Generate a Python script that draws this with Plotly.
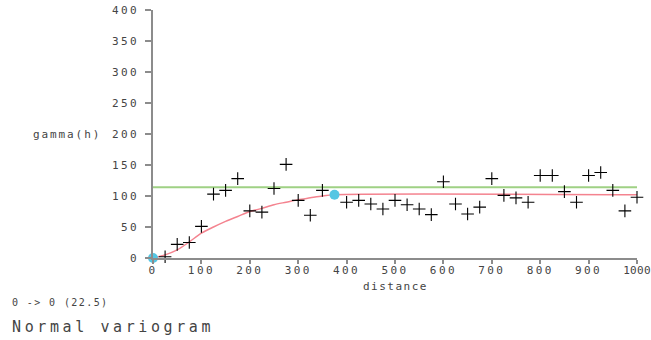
import plotly.graph_objects as go

# experimental variogram (lag distance, gamma)
lag_distance = [25, 50, 75, 100, 125, 150, 175, 200, 225, 250, 275, 300, 325, 350,
                400, 425, 450, 475, 500, 525, 550, 575, 600, 625, 650, 675, 700, 725,
                750, 775, 800, 825, 850, 875, 900, 925, 950, 975, 1000]
gamma_values = [2, 22, 25, 51, 103, 109, 128, 76, 74, 112, 151, 93, 69, 109,
                90, 93, 87, 79, 93, 86, 79, 70, 123, 87, 71, 82, 128, 101,
                97, 90, 133, 133, 107, 90, 133, 138, 109, 76, 98]

# fitted model curve
model_distance = [0, 25, 50, 75, 100, 125, 150, 175, 200, 225, 250, 275, 300, 325, 350, 375, 1000]
model_gamma = [0, 5, 13, 26, 40, 50, 59, 67, 75, 80, 86, 90, 94, 97, 100, 102, 102]

# control points
ctrl_distance = [0, 375]
ctrl_gamma = [0, 102]

# data variance line
sill_distance = [0, 1000]
sill_gamma = [114, 114]

x_ticks = list(range(0, 1001, 100))
y_ticks = list(range(0, 401, 50))

TXT = "#444444"
MONO = "DejaVu Sans Mono"


def spaced(s, sp):
    return f'<span style="letter-spacing:{sp}px">{s}</span>'


x_ticktext = [spaced(v, 2.4 if v < 1000 else 0.3) for v in x_ticks]

fig = go.Figure()
fig.add_trace(go.Scatter(x=sill_distance, y=sill_gamma, mode="lines",
                         line=dict(color="#9fd184", width=2), hoverinfo="skip"))
fig.add_trace(go.Scatter(x=model_distance, y=model_gamma, mode="lines",
                         line=dict(color="#f4838f", width=1.5, shape="spline", smoothing=0.8),
                         hoverinfo="skip"))
fig.add_trace(go.Scatter(x=lag_distance, y=gamma_values, mode="markers", cliponaxis=False,
                         marker=dict(symbol="cross-thin", size=9, color="black",
                                     line=dict(color="black", width=1.1))))
fig.add_trace(go.Scatter(x=ctrl_distance, y=ctrl_gamma, mode="markers", cliponaxis=False,
                         marker=dict(symbol="circle", size=10, color="#55c6e3")))

fig.update_layout(
    width=651, height=340,
    margin=dict(l=153, r=14, t=10, b=82),
    paper_bgcolor="white", plot_bgcolor="white",
    showlegend=False,
    font=dict(family=MONO, color=TXT, size=11),
    xaxis=dict(range=[0, 1000], showgrid=False, zeroline=False, showline=True, automargin=False,
               linecolor="#8c8c8c", linewidth=1.5, ticks="outside", ticklen=4,
               tickcolor="#8c8c8c", tickwidth=1.5, ticklabeloverflow="allow",
               tickvals=x_ticks, ticktext=x_ticktext,
               tickfont=dict(family=MONO, size=11, color=TXT), ticklabelstandoff=-3),
    yaxis=dict(range=[0, 400], showgrid=False, zeroline=False, showline=True, automargin=False,
               linecolor="#8c8c8c", linewidth=1.5, ticks="outside", ticklen=6,
               tickcolor="#8c8c8c", tickwidth=1.5, ticklabeloverflow="allow",
               tickvals=y_ticks, ticktext=[spaced(v, 2.4) for v in y_ticks],
               tickfont=dict(family=MONO, size=11, color=TXT), ticklabelstandoff=4),
    annotations=[
        dict(text=spaced("gamma(h)", 1.9), xref="paper", yref="y", x=-0.103, y=200,
             xanchor="right", yanchor="middle", showarrow=False,
             font=dict(family=MONO, size=11, color=TXT)),
        dict(text=spaced("distance", 1.5), xref="paper", yref="paper", x=0.5, y=-0.113,
             xanchor="center", yanchor="middle", showarrow=False,
             font=dict(family=MONO, size=11, color=TXT)),
        dict(text=spaced("0 -> 0 (22.5)", 1.4), xref="paper", yref="paper", x=-0.2955, y=-0.181,
             xanchor="left", yanchor="middle", showarrow=False,
             font=dict(family=MONO, size=10, color=TXT)),
        dict(text=spaced("Normal variogram", 3.6), xref="paper", yref="paper", x=-0.2955, y=-0.278,
             xanchor="left", yanchor="middle", showarrow=False,
             font=dict(family=MONO, size=15, color=TXT)),
    ],
)

fig.write_html("out.html", config={"displayModeBar": False},
               post_script="document.body.style.margin='0';document.body.style.overflow='hidden';")
